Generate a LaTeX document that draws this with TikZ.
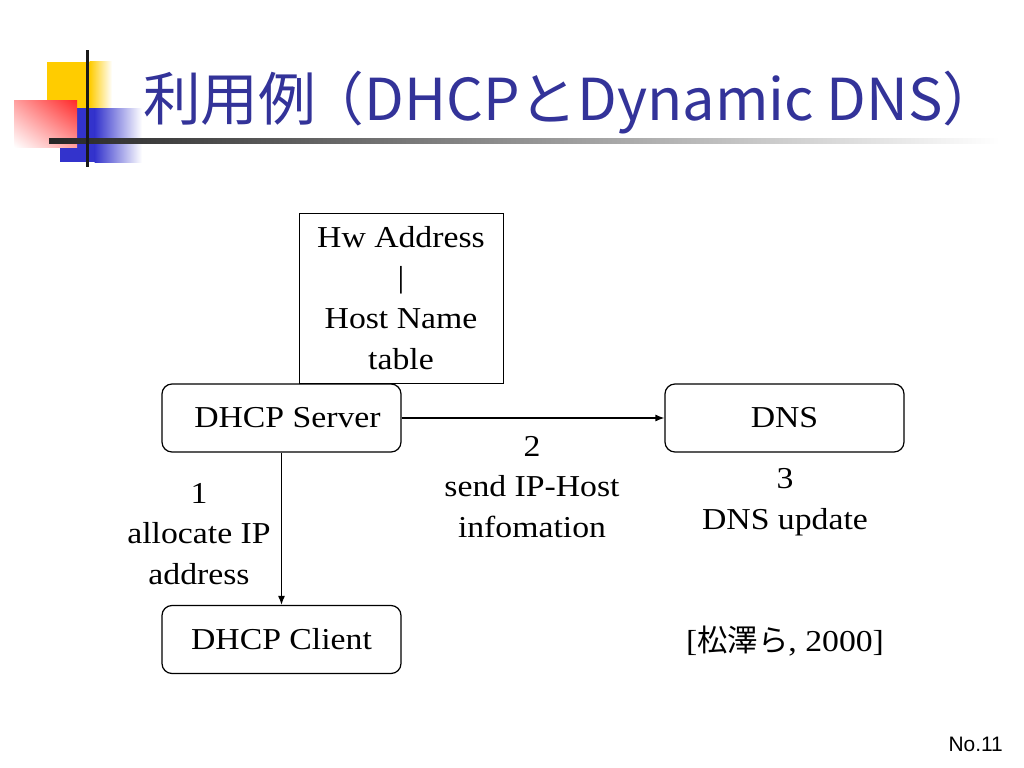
\documentclass[tikz,border=0pt]{standalone}
\usepackage{fontspec}
\setmainfont{Liberation Serif}[FakeStretch=1.11]
\newfontfamily\jpfont{Noto Sans CJK JP}
\newfontfamily\numfont{Liberation Sans}
\usetikzlibrary{arrows.meta,shadings}
\definecolor{titleblue}{RGB}{51,51,153}
\definecolor{decoyellow}{RGB}{255,204,0}
\definecolor{decored}{RGB}{255,40,40}
\definecolor{decoblue}{RGB}{51,51,204}
\newcommand\mainsize{\fontsize{30.5}{41}\selectfont}
\begin{document}
\begin{tikzpicture}[x=1bp,y=-1bp,
  rbox/.style={draw, rounded corners=10bp, line width=1.2bp, minimum width=239bp, minimum height=68bp, inner sep=0pt, font=\mainsize},
  tbox/.style={draw, line width=1bp, minimum width=204bp, minimum height=170bp, inner sep=0pt, align=center, font=\mainsize},
  lbl/.style={align=center, font=\mainsize, inner sep=0pt},
  arr/.style={-{Latex[length=9bp,width=7bp]}, line width=1.2bp}]
\useasboundingbox (0,0) rectangle (1024,768);
\fill[white] (0,0) rectangle (1024,768);
% decoration
\fill[decoyellow] (47,62) rectangle (90,108);
\shade[left color=decoyellow, right color=white] (89.5,62) rectangle (112,108);
\fill[decoblue] (60,108) rectangle (95,162);
\shade[left color=decoblue, right color=white] (94.5,108) rectangle (142,162);
\shade[upper right=decored, upper left=decored!45, lower right=decored!45, lower left=white] (14,100) rectangle (77,147);
\shade[left color=black!85, right color=white] (49,138) rectangle (1000,143);
\fill[black!90] (85.5,50) rectangle (89,167);
% title
\node[anchor=base west, text=titleblue, font=\jpfont\fontsize{58}{60}\selectfont, inner sep=0pt] (title) at (143,120) {利用例\kern-10bp（DHCPとDynamic DNS）};
% diagram
\node[tbox] (table) at (401,298) {Hw Address\\|\\Host Name\\table};
\node[rbox, fill=white] (server) at (281.5,418) {\hspace*{12bp}DHCP Server};
\node[rbox] (dns) at (784.5,418) {DNS};
\node[rbox] (client) at (281.5,639.5) {DHCP Client};
\draw[arr] (server.east) -- (dns.west);
\draw[arr] (server.south) -- (client.north);
\node[lbl] (l1) at (199,534) {1\\allocate IP\\address};
\node[lbl] (l2) at (532,487) {2\\send IP-Host\\infomation};
\node[lbl] (l3) at (785,502) {3\\DNS update};
\node[lbl] (cite) at (785,641) {[{\jpfont 松澤ら}, 2000]};
\node[anchor=base east, font=\numfont\fontsize{21}{24}\selectfont, inner sep=0pt] (no) at (1003,751) {No.11};
\end{tikzpicture}
\end{document}
